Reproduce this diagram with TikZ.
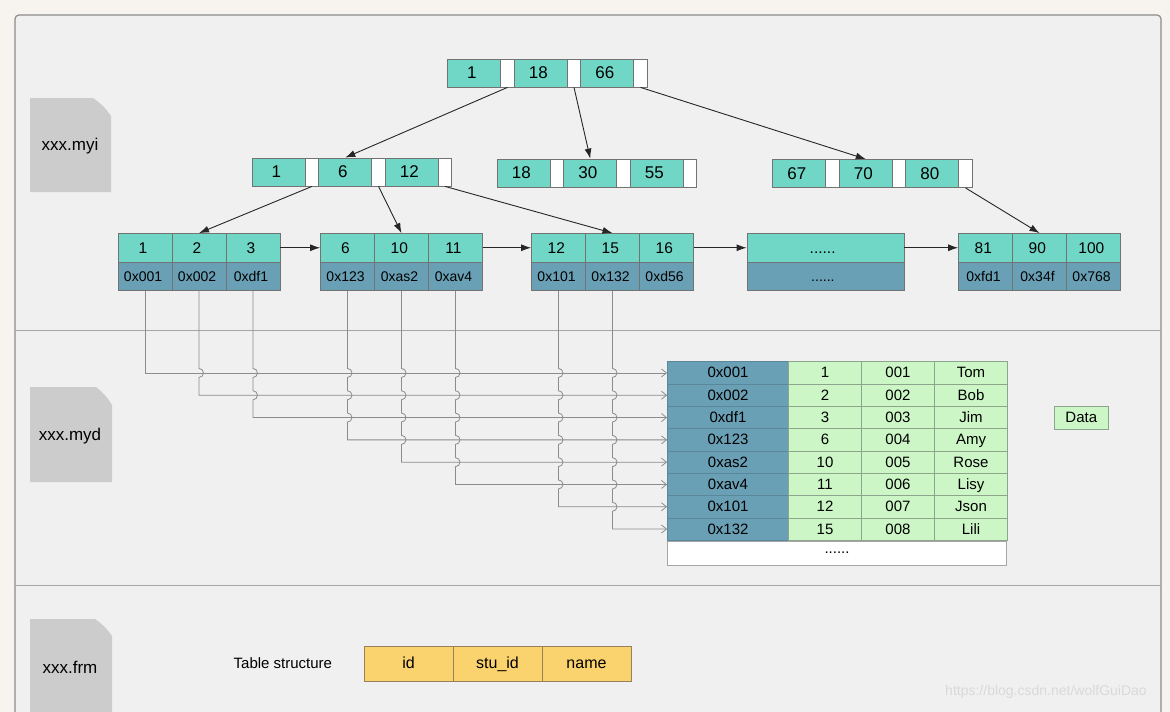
\documentclass[tikz,border=0pt]{standalone}
\usepackage{fontspec}
\setmainfont{Liberation Sans}
\usetikzlibrary{positioning, matrix, calc, arrows.meta}
\definecolor{pagebg}{RGB}{247,243,238}
\definecolor{panelbg}{RGB}{240,240,240}
\definecolor{keyteal}{RGB}{112,214,198}
\definecolor{ptrblue}{RGB}{106,160,181}
\definecolor{rowgreen}{RGB}{204,246,198}
\definecolor{greenline}{RGB}{140,165,140}
\definecolor{colyellow}{RGB}{250,211,110}
\definecolor{yellowline}{RGB}{150,130,90}
\definecolor{icongray}{RGB}{204,204,204}
\definecolor{linkgray}{RGB}{140,140,140}
\tikzset{
  cell/.style={draw=black!55, line width=0.8pt, inner sep=0pt, minimum height=28pt, align=center, text height=11.5pt, text depth=0.5pt},
  keycell/.style={cell, fill=keyteal, minimum width=53pt, font=\fontsize{17}{20}\selectfont},
  gapcell/.style={cell, fill=white, minimum width=13.5pt},
  keyrow/.style={matrix of nodes, nodes in empty cells, column sep=-0.8pt, nodes={keycell},
    column 2/.style={nodes={gapcell}}, column 4/.style={nodes={gapcell}}, column 6/.style={nodes={gapcell}}},
  leaf/.style={matrix of nodes, column sep=-0.8pt, row sep=-0.8pt, nodes={cell, minimum width=54pt, minimum height=28.5pt},
    row 1/.style={nodes={fill=keyteal, font=\fontsize{15.5}{18}\selectfont}},
    row 2/.style={nodes={fill=ptrblue, font=\fontsize{14}{17}\selectfont}}},
  rowtable/.style={matrix of nodes, column sep=-0.8pt, row sep=-0.8pt,
    nodes={draw=greenline, fill=rowgreen, line width=0.8pt, inner sep=0pt, minimum height=22.3pt, minimum width=73pt,
      text height=11pt, text depth=1pt, font=\fontsize{15}{18}\selectfont},
    column 1/.style={nodes={fill=ptrblue, draw=ptrblue!85!black, minimum width=121pt}}},
  datacell/.style={draw=greenline, fill=rowgreen, line width=0.8pt, minimum width=54pt, minimum height=23pt, inner sep=0pt,
    font=\fontsize{15}{18}\selectfont},
  fieldrow/.style={matrix of nodes, column sep=-0.8pt, nodes={draw=yellowline, fill=colyellow, line width=0.8pt, inner sep=0pt,
    minimum width=89pt, minimum height=35pt, text height=12pt, text depth=2pt, font=\fontsize{16}{19}\selectfont}},
  filelabel/.style={font=\fontsize{17}{20}\selectfont},
  tree/.style={-{Latex[length=10pt,width=7pt]}, line width=0.9pt, black!85},
  link/.style={-{Straight Barb[length=5pt,width=8pt]}, line width=0.8pt, linkgray},
  divider/.style={line width=1pt, black!35}
}

\begin{document}
\begin{tikzpicture}[x=1pt, y=1pt]
\useasboundingbox (0,0) rectangle (1170,-712);
\clip (0,0) rectangle (1170,-712);
\fill[pagebg] (0,0) rectangle (1170,-712);
\filldraw[fill=panelbg, draw=black!45, line width=1.2pt, rounded corners=4pt] (15,-15) rectangle (1161,-730);
\draw[divider] (15,-330) -- (1161,-330);
\draw[divider] (15,-585) -- (1161,-585);

% file icons
\fill[icongray] (30,-98) -- (93,-98) to[bend left=10] (111,-116) -- (111,-192) -- (30,-192) -- cycle;
\fill[icongray] (30,-387) -- (96,-387) to[bend left=10] (112,-405) -- (112,-482) -- (30,-482) -- cycle;
\fill[icongray] (30,-619) -- (95,-619) to[bend left=10] (112,-636) -- (112,-720) -- (30,-720) -- cycle;
\node[filelabel] (myi) at (70,-146) {xxx.myi};
\node[filelabel] (myd) at (70,-436) {xxx.myd};
\node[filelabel] (frm) at (70,-667) {xxx.frm};

% index tree
\matrix (R) [keyrow] at (547.5,-73) { 1 & & 18 & & 66 & \\ };
\matrix (A) [keyrow] at (352,-172) { 1 & & 6 & & 12 & \\ };
\matrix (B) [keyrow] at (597,-173) { 18 & & 30 & & 55 & \\ };
\matrix (C) [keyrow] at (872.5,-173.5) { 67 & & 70 & & 80 & \\ };

\matrix (L1) [leaf] at (199,-262) { 1 & 2 & 3 \\ 0x001 & 0x002 & 0xdf1 \\ };
\matrix (L2) [leaf] at (401.5,-262) { 6 & 10 & 11 \\ 0x123 & 0xas2 & 0xav4 \\ };
\matrix (L3) [leaf] at (612.5,-262) { 12 & 15 & 16 \\ 0x101 & 0x132 & 0xd56 \\ };
\matrix (L4) [leaf, nodes={minimum width=157pt}] at (825.5,-262) { ...... \\ ...... \\ };
\matrix (L5) [leaf] at (1039.5,-262) { 81 & 90 & 100 \\ 0xfd1 & 0x34f & 0x768 \\ };

\draw[tree] (R-1-2.south) -- (A-1-3.north);
\draw[tree] (R-1-4.south) -- (B-1-3.north);
\draw[tree] (R-1-6.south) -- (C-1-3.north);
\draw[tree] (A-1-2.south) -- (L1-1-2.north);
\draw[tree] (A-1-4.south) -- (L2-1-2.north);
\draw[tree] (A-1-6.south) -- (L3-1-2.north);
\draw[tree] (C-1-6.south) -- (L5-1-2.north);

\draw[tree] (L1-1-3.east) -- (L2-1-1.west);
\draw[tree] (L2-1-3.east) -- (L3-1-1.west);
\draw[tree] (L3-1-3.east) -- (L4-1-1.west);
\draw[tree] (L4-1-1.east) -- (L5-1-1.west);

% data rows
\matrix (T) [rowtable] at (837.5,-451) {
  0x001 & 1 & 001 & Tom \\
  0x002 & 2 & 002 & Bob \\
  0xdf1 & 3 & 003 & Jim \\
  0x123 & 6 & 004 & Amy \\
  0xas2 & 10 & 005 & Rose \\
  0xav4 & 11 & 006 & Lisy \\
  0x101 & 12 & 007 & Json \\
  0x132 & 15 & 008 & Lili \\
};
\node[draw=black!35, fill=white, line width=0.8pt, minimum width=339pt, minimum height=24pt, inner sep=0pt,
  anchor=north west, font=\fontsize{15}{18}\selectfont] (Tmore) at (T-8-1.south west) {......};
\node[datacell, right=46pt of T-3-4] (data) {Data};

% pointers from leaves to rows
\draw[link] (L1-2-1.south) |- (T-1-1.west);
\foreach \s/\j in {L1-2-2/2, L1-2-3/3, L2-2-1/4, L2-2-2/5, L2-2-3/6, L3-2-1/7, L3-2-2/8} {
  \pgfmathtruncatemacro{\k}{\j-1}
  \draw[link] (\s.south)
    \foreach \i in {1,...,\k} { -- ($(\s.south |- T-\i-1.west)+(0,4.5)$) arc[start angle=90, end angle=-90, radius=4.5] }
    -- (\s.south |- T-\j-1.west) -- (T-\j-1.west);
}

% table structure
\matrix (F) [fieldrow] at (497.5,-663.5) { id & stu\_id & name \\ };
\node[left=28pt of F-1-1, font=\fontsize{15}{18}\selectfont] (tstruct) {Table structure};

\node[font=\fontsize{14}{17}\selectfont, text=white!85!black] (wm) at (1046,-692) {https://blog.csdn.net/wolfGuiDao};
\end{tikzpicture}
\end{document}
